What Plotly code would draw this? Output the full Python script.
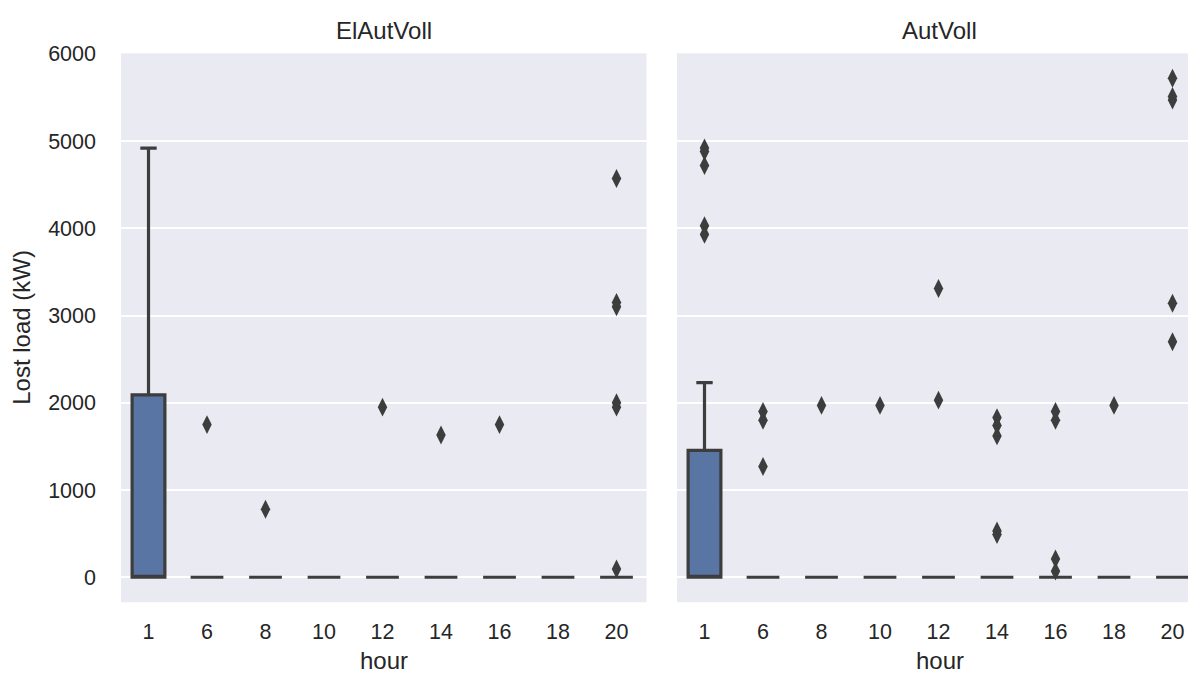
import plotly.graph_objects as go

hours = ["1", "6", "8", "10", "12", "14", "16", "18", "20"]

# Box statistics per hour (kW)
left_q1 = [0, 0, 0, 0, 0, 0, 0, 0, 0]
left_median = [0, 0, 0, 0, 0, 0, 0, 0, 0]
left_q3 = [2090, 0, 0, 0, 0, 0, 0, 0, 0]
left_lower = [0, 0, 0, 0, 0, 0, 0, 0, 0]
left_upper = [4920, 0, 0, 0, 0, 0, 0, 0, 0]

right_q1 = [0, 0, 0, 0, 0, 0, 0, 0, 0]
right_median = [0, 0, 0, 0, 0, 0, 0, 0, 0]
right_q3 = [1455, 0, 0, 0, 0, 0, 0, 0, 0]
right_lower = [0, 0, 0, 0, 0, 0, 0, 0, 0]
right_upper = [2230, 0, 0, 0, 0, 0, 0, 0, 0]

# Outliers
left_out_hour = ["6", "8", "12", "14", "16", "20", "20", "20", "20", "20", "20"]
left_out_value = [1750, 780, 1950, 1630, 1750, 4570, 3150, 3100, 2000, 1950, 95]

right_out_hour = ["1", "1", "1", "1", "1",
                  "6", "6", "6",
                  "8", "10",
                  "12", "12",
                  "14", "14", "14", "14", "14",
                  "16", "16", "16", "16",
                  "18",
                  "20", "20", "20", "20", "20"]
right_out_value = [4920, 4880, 4720, 4030, 3930,
                   1900, 1800, 1270,
                   1970, 1970,
                   3310, 2030,
                   1830, 1740, 1620, 530, 490,
                   1900, 1800, 210, 70,
                   1970,
                   5720, 5510, 5470, 3140, 2700]

titles = ["ElAutVoll", "AutVoll"]
y_ticks = [0, 1000, 2000, 3000, 4000, 5000, 6000]

W, H = 1188, 674
FONT = "Liberation Sans, Arial, sans-serif"
TXT = "#262626"
BOXFILL = "#5975a4"
EDGE = "#3d3d3d"
BG = "#eaeaf2"
TICK_SIZE = 21.5
LABEL_SIZE = 24

fig = go.Figure()

panels = [
    ("x", "y", left_q1, left_median, left_q3, left_lower, left_upper, left_out_hour, left_out_value),
    ("x2", "y2", right_q1, right_median, right_q3, right_lower, right_upper, right_out_hour, right_out_value),
]
for xa, ya, q1, med, q3, lo, up, oh, ov in panels:
    fig.add_trace(go.Box(
        x=hours, q1=q1, median=med, q3=q3, lowerfence=lo, upperfence=up,
        xaxis=xa, yaxis=ya, fillcolor=BOXFILL,
        line=dict(color=EDGE, width=3.2), whiskerwidth=0.5,
        boxpoints=False, showlegend=False, hoverinfo="skip",
    ))
    fig.add_trace(go.Scatter(
        x=oh, y=ov, mode="markers", xaxis=xa, yaxis=ya,
        marker=dict(symbol="diamond-tall", size=13.5, color=EDGE, line=dict(width=0)),
        showlegend=False, hoverinfo="skip",
    ))

s = 58.5                      # px per category
L_left, L_c0, L_right = 121, 148.5, 646.5
R_left, R_c0, R_right = 677, 704.5, 1188
y_top, y_bot = 43, 601        # panel edges (px)
ydom = [(H - y_bot) / H, (H - y_top) / H]

axis_common = dict(
    type="category", categoryorder="array", categoryarray=hours,
    showgrid=False, zeroline=False, showline=False, ticks="",
    tickfont=dict(family=FONT, size=TICK_SIZE, color=TXT),
    ticklabelstandoff=14, ticklabeloverflow="allow",
)
yaxis_common = dict(
    domain=ydom, range=[-286, 6006], tickvals=y_ticks,
    showgrid=True, gridcolor="white", gridwidth=1.6, zeroline=False, showline=False,
    ticks="",
)
fig.update_layout(
    width=W, height=H,
    margin=dict(l=0, r=0, t=0, b=0),
    paper_bgcolor="white", plot_bgcolor=BG,
    boxgap=0.2,
    xaxis=dict(domain=[L_left / W, L_right / W],
               range=[-(L_c0 - L_left) / s, (L_right - L_c0) / s], anchor="y", **axis_common),
    xaxis2=dict(domain=[R_left / W, R_right / W],
                range=[-(R_c0 - R_left) / s, (R_right - R_c0) / s], anchor="y2", **axis_common),
    yaxis=dict(anchor="x", ticklabelstandoff=24,
               tickfont=dict(family=FONT, size=TICK_SIZE, color=TXT), **yaxis_common),
    yaxis2=dict(anchor="x2", showticklabels=False, matches="y", **yaxis_common),
)

# facet titles (centred on full axes width)
centers = [(L_left + L_right) / 2, (R_left + R_left + (L_right - L_left)) / 2]
for t, cx in zip(titles, centers):
    fig.add_annotation(text=t, x=cx / W, y=(H - 20) / H, xref="paper", yref="paper",
                       showarrow=False, xanchor="center", yanchor="middle",
                       font=dict(family=FONT, size=LABEL_SIZE, color=TXT))
# x axis titles
for cx in centers:
    fig.add_annotation(text="hour", x=cx / W, y=(H - 660) / H, xref="paper", yref="paper",
                       showarrow=False, xanchor="center", yanchor="middle",
                       font=dict(family=FONT, size=LABEL_SIZE, color=TXT))
# y axis title
fig.add_annotation(text="Lost load (kW)", x=22 / W, y=(H - (y_top + y_bot) / 2) / H,
                   xref="paper", yref="paper", showarrow=False, textangle=-90,
                   xanchor="center", yanchor="middle",
                   font=dict(family=FONT, size=LABEL_SIZE, color=TXT))

# remove the browser's default 8px body margin so the figure fills the window exactly
fig.write_html("out.html", config={"displayModeBar": False},
               post_script="document.body.style.margin='0';document.body.style.overflow='hidden';")
